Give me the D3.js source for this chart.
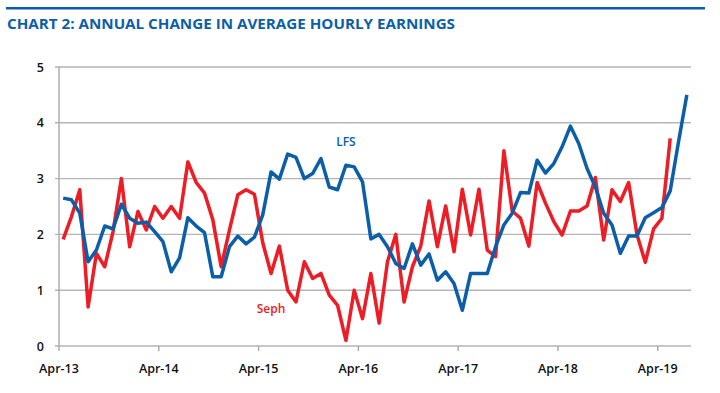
<!DOCTYPE html>
<html>
<head>
<meta charset="utf-8">
<script src="https://cdn.jsdelivr.net/npm/d3@7"></script>
<style>
  body { margin: 0; background: #fff; }
  svg { display: block; font-family: "Open Sans", sans-serif; }
</style>
</head>
<body>
<div id="chart"></div>
<script>
// months Apr-13 .. Jul-19
const months = d3.range(76).map(i => new Date(2013, 3 + i, 1));
const yTicks = [0, 1, 2, 3, 4, 5];

// LFS (blue)
const lfs = [2.65, 2.62, 2.38, 1.51, 1.72, 2.15, 2.10, 2.54, 2.29, 2.20, 2.22, 2.05,
  1.87, 1.33, 1.58, 2.30, 2.15, 2.03, 1.24, 1.24, 1.78, 1.97, 1.83, 1.95,
  2.35, 3.12, 2.99, 3.44, 3.38, 3.00, 3.09, 3.36, 2.85, 2.80, 3.24, 3.21,
  2.94, 1.92, 2.00, 1.78, 1.48, 1.39, 1.83, 1.45, 1.65, 1.18, 1.33, 1.12,
  0.64, 1.30, 1.30, 1.30, 1.78, 2.17, 2.38, 2.75, 2.74, 3.33, 3.10, 3.27,
  3.57, 3.94, 3.63, 3.18, 2.85, 2.38, 2.17, 1.66, 1.97, 1.97, 2.30, 2.39,
  2.48, 2.78, 3.66, 4.50];

// Seph (red)
const seph = [1.91, 2.32, 2.80, 0.70, 1.66, 1.42, 2.05, 3.00, 1.78, 2.41, 2.08, 2.50,
  2.29, 2.50, 2.29, 3.30, 2.93, 2.74, 2.26, 1.42, 2.08, 2.71, 2.80, 2.72,
  1.85, 1.30, 1.79, 1.00, 0.79, 1.51, 1.21, 1.30, 0.91, 0.73, 0.10, 1.00,
  0.49, 1.30, 0.41, 1.51, 2.00, 0.79, 1.42, 1.79, 2.60, 1.78, 2.51, 1.69,
  2.81, 1.99, 2.81, 1.72, 1.60, 3.50, 2.42, 2.29, 1.79, 2.93, 2.56, 2.23,
  1.99, 2.42, 2.42, 2.51, 3.02, 1.90, 2.80, 2.59, 2.93, 2.00, 1.50, 2.10,
  2.29, 3.72];

const W = 720, H = 393;
const margin = {left: 59, right: 29, top: 67, bottom: 47};

let svg = d3.select("#chart").append("svg")
    .attr("width", W)
    .attr("height", H);

// header rule + title
svg.append("rect")
    .attr("x", 6).attr("y", 7).attr("width", 699).attr("height", 2.5)
    .attr("fill", "#0b5ea8");
svg.append("text")
    .attr("x", 7).attr("y", 29)
    .attr("fill", "#0b5ea8")
    .style("font-size", "13.5px")
    .style("font-weight", "700")
    .attr("textLength", 448)
    .attr("lengthAdjust", "spacingAndGlyphs")
    .text("CHART 2: ANNUAL CHANGE IN AVERAGE HOURLY EARNINGS");

let x = d3.scaleBand().domain(months.map(d => +d))
    .range([margin.left, W - margin.right]).padding(0);
let y = d3.scaleLinear().domain([0, 5]).range([H - margin.bottom, margin.top]);
let cx = i => x(+months[i]) + x.bandwidth() / 2;

// gridlines
svg.append("g")
    .selectAll("line")
    .data(yTicks)
    .enter().append("line")
    .attr("x1", margin.left - 4)
    .attr("x2", W - margin.right)
    .attr("y1", d => y(d)).attr("y2", d => y(d))
    .attr("stroke", "#b5b5b5")
    .attr("stroke-width", 1.4);

svg.append("g")
    .selectAll("text")
    .data(yTicks)
    .enter().append("text")
    .attr("x", 44)
    .attr("y", d => y(d) + 4.5)
    .attr("text-anchor", "end")
    .attr("fill", "#111")
    .style("font-size", "12.5px")
    .style("font-weight", "600")
    .text(d => d);

// y axis line
svg.append("line")
    .attr("x1", margin.left).attr("x2", margin.left)
    .attr("y1", y(5)).attr("y2", y(0))
    .attr("stroke", "#a8a8a8").attr("stroke-width", 1.4);

// x axis: ticks at each April
let aprils = months.filter(d => d.getMonth() === 3);
let xAxis = svg.append("g")
    .selectAll("g")
    .data(aprils)
    .enter().append("g");
xAxis.append("line")
    .attr("x1", d => x(+d)).attr("x2", d => x(+d))
    .attr("y1", y(0)).attr("y2", y(0) + 5)
    .attr("stroke", "#a8a8a8").attr("stroke-width", 1.4);
xAxis.append("text")
    .attr("x", d => x(+d))
    .attr("y", y(0) + 27)
    .attr("text-anchor", "middle")
    .attr("fill", "#111")
    .style("font-size", "12.5px")
    .style("font-weight", "600")
    .text(d3.timeFormat("Apr-%y"));

let line = d3.line()
    .x((d, i) => cx(i))
    .y(d => y(d));

svg.append("path")
    .datum(seph)
    .attr("fill", "none")
    .attr("stroke", "#ee1c25")
    .attr("stroke-width", 3.5)
    .attr("stroke-linejoin", "round")
    .attr("d", line);

svg.append("path")
    .datum(lfs)
    .attr("fill", "none")
    .attr("stroke", "#0b5ea8")
    .attr("stroke-width", 3.5)
    .attr("stroke-linejoin", "round")
    .attr("d", line);

// series labels
svg.append("text")
    .attr("x", cx(34)).attr("y", y(3.58))
    .attr("text-anchor", "middle")
    .attr("fill", "#0b5ea8")
    .style("font-size", "12px")
    .style("font-weight", "600")
    .text("LFS");
svg.append("text")
    .attr("x", cx(25)).attr("y", y(0.6))
    .attr("text-anchor", "middle")
    .attr("fill", "#ee1c25")
    .style("font-size", "12px")
    .style("font-weight", "600")
    .text("Seph");
</script>
</body>
</html>
